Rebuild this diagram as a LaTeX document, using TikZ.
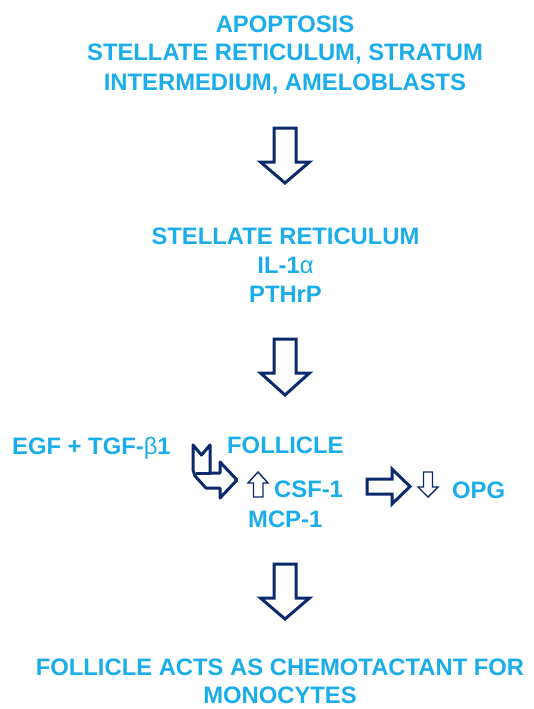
\documentclass[tikz,border=0pt]{standalone}
\usepackage{fontspec}
\setmainfont{Liberation Sans}
\definecolor{txt}{HTML}{1AADE9}
\definecolor{navy}{HTML}{0B2A6B}
\begin{document}
\begin{tikzpicture}[x=1pt,y=-1pt,
  lbl/.style={text=txt, font=\fontsize{23.8}{28}\selectfont\bfseries, inner sep=0pt, anchor=base},
  lblw/.style={lbl, anchor=base west},
  fat/.style={draw=navy, line width=3pt, fill=white, line join=miter},
  thin/.style={draw=navy, line width=1.4pt, fill=white, line join=miter}]
\useasboundingbox (0,0) rectangle (533,709);
% top block
\node[lbl] (a1) at (285,33) {APOPTOSIS};
\node[lbl] (a2) at (285,61) {STELLATE RETICULUM, STRATUM};
\node[lbl] (a3) at (285,90) {INTERMEDIUM, AMELOBLASTS};
% arrow 1
\draw[fat] (274,128) -- (296,128) -- (296,162) -- (309.5,162) -- (285,183) -- (260.5,162) -- (274,162) -- cycle;
% second block
\node[lbl] (b1) at (285.5,244) {STELLATE RETICULUM};
\node[lbl] (b2) at (285.5,273) {IL-1{\mdseries α}};
\node[lbl] (b3) at (285.5,302) {PTHrP};
% arrow 2
\draw[fat] (274,339) -- (296,339) -- (296,373) -- (309.5,373) -- (285,395) -- (260.5,373) -- (274,373) -- cycle;
% third block
\node[lblw] (c1) at (12,454) {EGF + TGF-{\mdseries β}1};
\node[lblw] (c2) at (227,453) {FOLLICLE};
\node[lblw] (c3) at (274,497) {CSF-1};
\node[lblw] (c4) at (248,527) {MCP-1};
\node[lblw] (c5) at (452,498) {OPG};
% bent arrow
\draw[fat, line join=round] (193,445) -- (201.5,455) -- (210,445) -- (210,473) -- (220,473) -- (220,462) -- (237,480) -- (220,498) -- (220,488) -- (206,488) -- (195,476) -- (193,470) -- cycle;
\draw[navy, line width=3pt] (196,473) -- (211,473);
% small up arrow
\draw[thin] (258,472) -- (268,483) -- (263,483) -- (263,497) -- (253.5,497) -- (253.5,483) -- (248,483) -- cycle;
% fat right arrow
\draw[fat] (367,479) -- (392,479) -- (392,469) -- (410,486.5) -- (392,504) -- (392,494) -- (367,494) -- cycle;
% small down arrow
\draw[thin] (423.5,472) -- (432.5,472) -- (432.5,487) -- (438,487) -- (428,497) -- (418,487) -- (423.5,487) -- cycle;
% arrow 3
\draw[fat] (274,564) -- (296,564) -- (296,598) -- (309.5,598) -- (285,619) -- (260.5,598) -- (274,598) -- cycle;
% bottom block
\node[lbl] (d1) at (280,675) {FOLLICLE ACTS AS CHEMOTACTANT FOR};
\node[lbl] (d2) at (280,703) {MONOCYTES};
\end{tikzpicture}
\end{document}
